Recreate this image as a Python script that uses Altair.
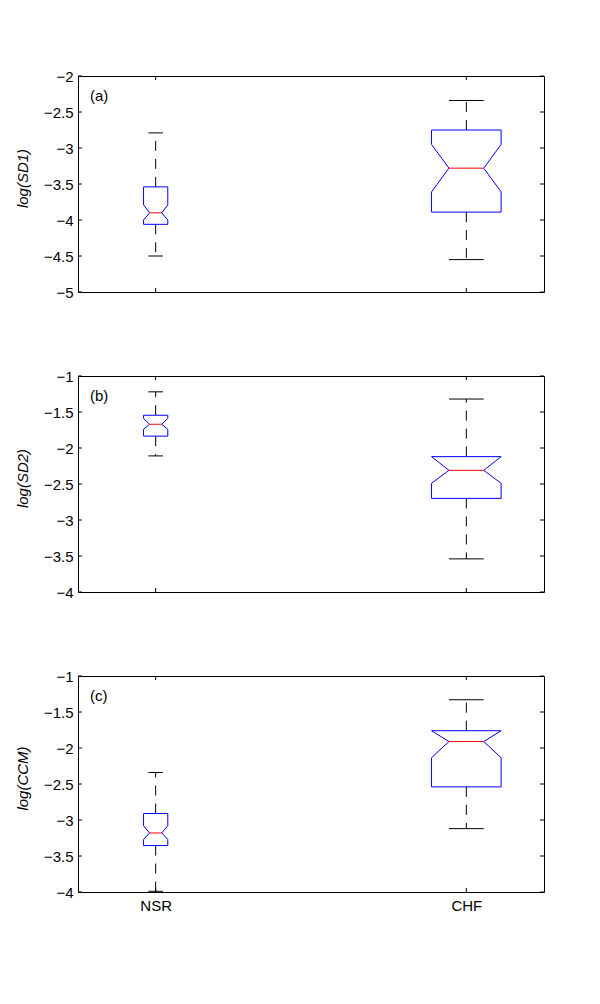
import altair as alt
import pandas as pd

# ---------------- data ----------------
groups = ["NSR", "CHF"]
group_pos = [1, 2]

panel_tags = ["(a)", "(b)", "(c)"]
panel_titles = ["log(SD1)", "log(SD2)", "log(CCM)"]
y_domains = [[-5, -2], [-4, -1], [-4, -1]]
y_ticks_a = [-5, -4.5, -4, -3.5, -3, -2.5, -2]
y_ticks_b = [-4, -3.5, -3, -2.5, -2, -1.5, -1]
y_ticks_c = [-4, -3.5, -3, -2.5, -2, -1.5, -1]

# (a) log(SD1)   [NSR, CHF]
sd1_low = [-4.50, -4.55]
sd1_q1 = [-4.06, -3.89]
sd1_notch_lo = [-4.00, -3.61]
sd1_median = [-3.90, -3.28]
sd1_notch_hi = [-3.79, -2.95]
sd1_q3 = [-3.54, -2.75]
sd1_high = [-2.79, -2.34]

# (b) log(SD2)
sd2_low = [-2.11, -3.54]
sd2_q1 = [-1.835, -2.70]
sd2_notch_lo = [-1.74, -2.49]
sd2_median = [-1.67, -2.31]
sd2_notch_hi = [-1.59, -2.12]
sd2_q3 = [-1.545, -2.12]
sd2_high = [-1.22, -1.32]

# (c) log(CCM)
ccm_low = [-3.99, -3.12]
ccm_q1 = [-3.355, -2.54]
ccm_notch_lo = [-3.27, -2.135]
ccm_median = [-3.18, -1.91]
ccm_notch_hi = [-3.08, -1.76]
ccm_q3 = [-2.91, -1.76]
ccm_high = [-2.34, -1.33]

# ---------------- style constants ----------------
BOX_HALF = [0.039, 0.112]     # half box width (x units), varwidth style
NOTCH_HALF = [0.0195, 0.056]
CAP_HALF = [0.0235, 0.056]
W, H = 466, 216
FONT = "Liberation Sans"
BLUE = "#0000FF"
RED = "#FF0000"
BLACK = "#000000"
X_DOMAIN = [0.75, 2.25]


def panel(stats, y_domain, y_ticks, title, tag, show_x_labels):
    low, q1, nlo, med, nhi, q3, high = stats
    poly_rows, box_rows = [], []
    for i, g in enumerate(groups):
        x0 = group_pos[i]
        w, n, c = BOX_HALF[i], NOTCH_HALF[i], CAP_HALF[i]
        verts = [(-w, q3[i]), (w, q3[i]), (w, nhi[i]), (n, med[i]), (w, nlo[i]),
                 (w, q1[i]), (-w, q1[i]), (-w, nlo[i]), (-n, med[i]), (-w, nhi[i]),
                 (-w, q3[i])]
        for k, (dx, yv) in enumerate(verts):
            poly_rows.append({"g": g, "k": k, "x": x0 + dx, "y": yv})
        box_rows.append({"g": g, "xc": x0, "low": low[i], "q1": q1[i], "med": med[i],
                         "q3": q3[i], "high": high[i],
                         "nl": x0 - n, "nr": x0 + n, "cl": x0 - c, "cr": x0 + c})
    poly = pd.DataFrame(poly_rows)
    box = pd.DataFrame(box_rows)

    xs = alt.Scale(domain=X_DOMAIN, nice=False, zero=False)
    ys = alt.Scale(domain=y_domain, nice=False, zero=False)

    x_axis = alt.Axis(values=group_pos, title=None, grid=False, ticks=False, domain=False,
                      labels=show_x_labels, labelOverlap=False,
                      labelExpr="datum.value == 1 ? 'NSR' : 'CHF'",
                      labelFont=FONT, labelFontSize=15, labelColor=BLACK, labelPadding=6)
    y_axis = alt.Axis(values=y_ticks, title=title, grid=False, ticks=False, domain=False,
                      format=".1~f", labelOverlap=False, labelFlush=False,
                      labelExpr="replace(datum.label, /[-\u2212]/, '\u2212')",
                      labelFont=FONT, labelFontSize=15, labelColor=BLACK,
                      labelPadding=5, titleFont=FONT, titleFontSize=15,
                      titleFontStyle="italic", titleFontWeight="normal", titleColor=BLACK,
                      titleAngle=270, titleX=-56, titleY=102, titleAlign="center",
                      titleBaseline="middle")

    def X(f):
        return alt.X(f, scale=xs, axis=x_axis)

    def Y(f):
        return alt.Y(f, scale=ys, axis=y_axis)

    base_box = alt.Chart(box)

    upper_wh = base_box.mark_rule(color=BLACK, strokeDash=[10, 8], strokeWidth=1).encode(
        x=X("xc:Q"), y=Y("q3:Q"), y2="high:Q")
    lower_wh = base_box.mark_rule(color=BLACK, strokeDash=[10, 8], strokeWidth=1).encode(
        x=X("xc:Q"), y=Y("q1:Q"), y2="low:Q")
    cap_hi = base_box.mark_rule(color=BLACK, strokeWidth=1).encode(
        x=X("cl:Q"), x2="cr:Q", y=Y("high:Q"))
    cap_lo = base_box.mark_rule(color=BLACK, strokeWidth=1).encode(
        x=X("cl:Q"), x2="cr:Q", y=Y("low:Q"))
    outline = alt.Chart(poly).mark_line(color=BLUE, strokeWidth=1).encode(
        x=X("x:Q"), y=Y("y:Q"), detail="g:N", order="k:Q")
    median = base_box.mark_rule(color=RED, strokeWidth=1).encode(
        x=X("nl:Q"), x2="nr:Q", y=Y("med:Q"))

    ticks_df = pd.DataFrame({"t": y_ticks})
    lt = alt.Chart(ticks_df).mark_rule(color=BLACK).encode(
        y=Y("t:Q"), x=alt.value(0), x2=alt.value(4))
    rt = alt.Chart(ticks_df).mark_rule(color=BLACK).encode(
        y=Y("t:Q"), x=alt.value(W - 4), x2=alt.value(W))
    xt_df = pd.DataFrame({"p": group_pos})
    tt = alt.Chart(xt_df).mark_rule(color=BLACK).encode(
        x=X("p:Q"), y=alt.value(0), y2=alt.value(4))
    bt = alt.Chart(xt_df).mark_rule(color=BLACK).encode(
        x=X("p:Q"), y=alt.value(H - 4), y2=alt.value(H))

    tag_t = alt.Chart(pd.DataFrame({"tag": [tag]})).mark_text(
        font=FONT, fontSize=15, align="left", baseline="middle", color=BLACK).encode(
        x=alt.value(12), y=alt.value(20), text="tag:N")

    return alt.layer(upper_wh, lower_wh, cap_hi, cap_lo, outline, median,
                     lt, rt, tt, bt, tag_t).properties(width=W, height=H)


p1 = panel((sd1_low, sd1_q1, sd1_notch_lo, sd1_median, sd1_notch_hi, sd1_q3, sd1_high),
           y_domains[0], y_ticks_a, panel_titles[0], panel_tags[0], False)
p2 = panel((sd2_low, sd2_q1, sd2_notch_lo, sd2_median, sd2_notch_hi, sd2_q3, sd2_high),
           y_domains[1], y_ticks_b, panel_titles[1], panel_tags[1], False)
p3 = panel((ccm_low, ccm_q1, ccm_notch_lo, ccm_median, ccm_notch_hi, ccm_q3, ccm_high),
           y_domains[2], y_ticks_c, panel_titles[2], panel_tags[2], True)

chart = alt.vconcat(p1, p2, p3, spacing=84, bounds="flush").properties(
    padding={"left": 6, "top": 60, "right": 5, "bottom": 5}
).configure(background="white").configure_view(stroke=BLACK, strokeWidth=1)

chart.save("out.html", embed_options={"renderer": "svg", "actions": False})
